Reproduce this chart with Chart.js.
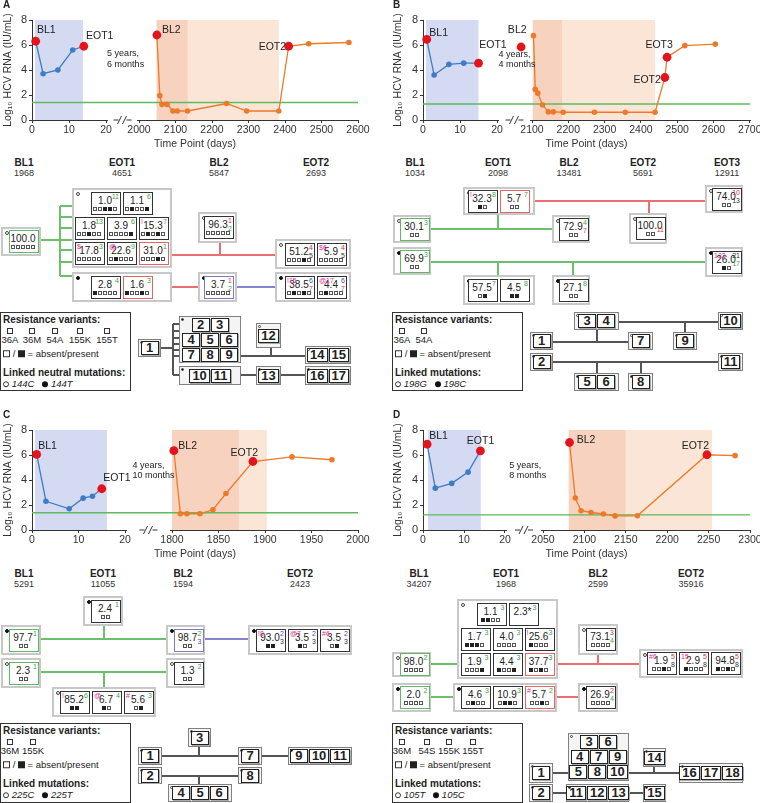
<!DOCTYPE html>
<html>
<head>
<meta charset="utf-8">
<script src="https://cdn.jsdelivr.net/npm/chart.js@4.4.0/dist/chart.umd.min.js"></script>
<style>
body{margin:0;background:#fff;font-family:"Liberation Sans",Arial,sans-serif;color:#222;overflow:hidden}
#page{position:relative;width:760px;height:803px;overflow:hidden}
canvas{position:absolute}
.t{position:absolute;white-space:nowrap;transform:translate(-50%,-50%);line-height:1}
.tl{position:absolute;white-space:nowrap;transform:translate(0,-50%);line-height:1}
.ln{position:absolute}
.grp{position:absolute;box-sizing:border-box;border:2px solid #c8c8c8;background:#fff;display:flex;flex-direction:column;justify-content:center;align-items:center;gap:2px}
.row{display:flex;gap:2px}
.cell{position:relative;box-sizing:border-box;width:30px;height:23px;border:1.5px solid #333;background:#fff}
.val{position:absolute;left:0;right:2px;top:2px;text-align:center;font-size:10px;line-height:11px}
.sqs{position:absolute;left:0;right:2px;bottom:3px;height:4px;display:flex;justify-content:center;gap:1px}
.sq{box-sizing:border-box;width:4px;height:4px;border:1px solid #555;background:#fff}
.sq.on{background:#222;border-color:#222}
.sup{position:absolute;right:1px;top:0px;font-size:7px;line-height:7px}
.sub{position:absolute;right:1px;top:8px;font-size:7px;line-height:7px}
.pre{position:absolute;left:1px;top:0px;font-size:7px;line-height:7px;color:#e0309a}
.mk{position:absolute;left:2px;top:2px;width:4px;height:4px;border-radius:50%;box-sizing:border-box;border:0.8px solid #444}
.mk.f{background:#111;border-color:#111}
.node{position:absolute;box-sizing:border-box;border:1px solid #808080;background:#f4f4f4;display:flex;flex-direction:column;justify-content:center;align-items:center;gap:1px}
.ncell{box-sizing:border-box;min-width:18px;height:14px;padding:0 2px;border:1.6px solid #222;background:#fff;font-weight:bold;font-size:13px;line-height:11px;text-align:center;box-shadow:1px 1px 0 #aaa}
.nmk{position:absolute;left:1px;top:1px;width:3px;height:3px;border-radius:50%;box-sizing:border-box;border:0.6px solid #444}
.nmk.f{background:#111}
.leg{position:absolute;box-sizing:border-box;border:1.3px solid #333;background:#fff}
</style>
</head>
<body>
<div id="page">
<canvas id="cA" width="380" height="150" style="left:0;top:0"></canvas>
<canvas id="cB" width="380" height="150" style="left:380px;top:0"></canvas>
<canvas id="cC" width="380" height="150" style="left:0;top:410px"></canvas>
<canvas id="cD" width="380" height="150" style="left:380px;top:410px"></canvas>
</div>
<script>
// ---- viral load data (days, log10 IU/mL) ----
const aDays1 = [1, 3, 7, 11, 14];
const aLoad1 = [6.3, 3.7, 4.0, 5.6, 5.9];
const aDays2 = [2049, 2057, 2063, 2077, 2093, 2105, 2133, 2240, 2295, 2383, 2410, 2465, 2575];
const aLoad2 = [6.8, 1.95, 1.25, 1.25, 0.72, 0.72, 0.72, 1.32, 0.72, 0.72, 5.9, 6.1, 6.2];
const aKeyDays = [1, 14, 2049, 2410];
const aKeyLoad = [6.3, 5.9, 6.8, 5.9];

const bDays1 = [1, 3, 7, 11, 15];
const bLoad1 = [6.45, 3.6, 4.45, 4.55, 4.55];
const bDays2 = [2104, 2109, 2116, 2129, 2145, 2159, 2186, 2272, 2357, 2439, 2466, 2472, 2521, 2605];
const bLoad2 = [6.75, 2.45, 2.15, 1.2, 0.65, 0.65, 0.62, 0.62, 0.62, 0.62, 3.4, 5.02, 5.95, 6.07];
const bKeyDays = [1, 15, 2070, 2466, 2472];
const bKeyLoad = [6.45, 4.55, 5.84, 3.4, 5.02];

const cDays1 = [1, 3, 8, 11, 13, 15];
const cLoad1 = [6.05, 2.3, 1.7, 2.55, 2.7, 3.3];
const cDays2 = [1802, 1809, 1816, 1830, 1844, 1858, 1887, 1929, 1972];
const cLoad2 = [6.35, 1.3, 1.3, 1.3, 1.62, 2.92, 5.48, 5.85, 5.62];
const cKeyDays = [1, 15, 1802, 1887];
const cKeyLoad = [6.05, 3.3, 6.35, 5.48];

const dDays1 = [1, 3, 7, 11, 14];
const dLoad1 = [6.87, 3.35, 3.73, 4.63, 6.33];
const dDays2 = [2082, 2089, 2096, 2108, 2123, 2137, 2164, 2248, 2282];
const dLoad2 = [7.0, 2.56, 1.54, 1.4, 1.28, 1.13, 1.14, 6.02, 5.95];
const dKeyDays = [1, 14, 2082, 2248];
const dKeyLoad = [6.87, 6.33, 7.0, 6.02];

// tick labels of the broken time axis
const aTicks = [0, 10, 20, 2000, 2100, 2200, 2300, 2400, 2500, 2600];
const bTicks = [0, 10, 20, 2100, 2200, 2300, 2400, 2500, 2600, 2700];
const cTicks = [0, 10, 20, 1800, 1850, 1900, 1950, 2000];
const dTicks = [0, 10, 20, 2050, 2100, 2150, 2200, 2250, 2300];

const BLUE = '#3f7cc6', ORANGE = '#ec7a2a', RED = '#e3141b', GREEN = '#5dba5d';
const FONT = '"Liberation Sans", Arial, sans-serif';

function panelPlugin(o) {
  return {
    id: 'panel',
    beforeDatasetsDraw(chart) {
      const ctx = chart.ctx, a = chart.chartArea;
      const xs = chart.scales.x, ys = chart.scales.y;
      const band = (r, col) => {
        const x1 = xs.getPixelForValue(o.map(r[0])), x2 = xs.getPixelForValue(o.map(r[1]));
        ctx.fillStyle = col; ctx.fillRect(x1, a.top, x2 - x1, a.bottom - a.top);
      };
      ctx.save();
      band(o.blue, 'rgba(196,206,236,0.75)');
      band(o.dark, 'rgba(244,196,170,0.75)');
      band(o.light, 'rgba(250,218,196,0.7)');
      const gy = ys.getPixelForValue(o.lloq);
      ctx.strokeStyle = GREEN; ctx.lineWidth = 1.4;
      ctx.beginPath(); ctx.moveTo(a.left, gy); ctx.lineTo(a.right, gy); ctx.stroke();
      ctx.restore();
    },
    afterDraw(chart) {
      const ctx = chart.ctx, a = chart.chartArea;
      const xs = chart.scales.x, ys = chart.scales.y;
      ctx.save();
      // axis break
      const x20 = xs.getPixelForValue(o.map(20)), xr = xs.getPixelForValue(o.map(o.r0));
      const mid = (x20 + xr) / 2, y = a.bottom;
      ctx.fillStyle = '#fff';
      ctx.fillRect(x20 + 2, y - 3, xr - x20 - 4, 6);
      ctx.strokeStyle = '#333'; ctx.lineWidth = 1;
      ctx.beginPath(); ctx.moveTo(mid - 9, y); ctx.lineTo(mid + 9, y); ctx.stroke();
      ctx.fillRect(mid - 4, y - 4, 8, 8);
      ctx.beginPath();
      ctx.moveTo(mid - 5, y + 4); ctx.lineTo(mid - 1, y - 4);
      ctx.moveTo(mid + 0, y + 4); ctx.lineTo(mid + 4, y - 4);
      ctx.stroke();
      // labels
      ctx.fillStyle = '#222'; ctx.textBaseline = 'middle';
      o.notes.forEach(n => {
        ctx.font = (n[4] || 10.5) + 'px ' + FONT;
        ctx.textAlign = n[3] || 'left';
        ctx.fillText(n[2], xs.getPixelForValue(o.map(n[0])), ys.getPixelForValue(n[1]));
      });
      ctx.restore();
    }
  };
}

function brokenMap(a, r0, off, b) {
  return t => t < 1000 ? a * t : off + b * (t - r0);
}

function makePanel(id, cfg) {
  const map = cfg.map;
  const pts = (d, l) => d.map((t, i) => ({ x: map(t), y: l[i] }));
  const tickVals = cfg.ticks.map(map);
  new Chart(document.getElementById(id).getContext('2d'), {
    type: 'line',
    data: {
      datasets: [
        { data: pts(cfg.d1, cfg.l1), borderColor: BLUE, backgroundColor: BLUE, pointRadius: 2.8, pointBorderWidth: 0, borderWidth: 1.3, clip: false, order: 2 },
        { data: pts(cfg.d2, cfg.l2), borderColor: ORANGE, backgroundColor: ORANGE, pointRadius: 2.8, pointBorderWidth: 0, borderWidth: 1.3, clip: false, order: 1 },
        { data: pts(cfg.kd, cfg.kl), showLine: false, backgroundColor: RED, borderColor: RED, pointRadius: 4.4, pointBorderWidth: 0, clip: false, order: 0 }
      ]
    },
    options: {
      responsive: false, animation: false,
      layout: { padding: { left: cfg.padL, right: cfg.padR, top: 20, bottom: 0 } },
      plugins: { legend: { display: false }, tooltip: { enabled: false } },
      scales: {
        x: {
          type: 'linear', min: 0, max: cfg.vmax,
          afterBuildTicks: s => { s.ticks = tickVals.map(v => ({ value: v })); },
          afterFit: s => { s.height = 30; s.paddingLeft = 0; s.paddingRight = 0; },
          ticks: { callback: (v, i) => String(cfg.ticks[i]), autoSkip: false, maxRotation: 0, padding: 1, color: '#333', font: { family: FONT, size: 10.5 } },
          grid: { display: true, drawOnChartArea: false, tickLength: 3, color: '#333' },
          border: { color: '#333' },
          title: { display: true, text: 'Time Point (days)', padding: 0, color: '#333', font: { family: FONT, size: 10.5 } }
        },
        y: {
          min: 0, max: 8,
          afterFit: s => { s.width = cfg.yW; s.paddingTop = 0; s.paddingBottom = 0; },
          ticks: { stepSize: 2, padding: 2, color: '#333', font: { family: FONT, size: 11 } },
          grid: { display: true, drawOnChartArea: false, tickLength: 3, color: '#333' },
          border: { color: '#333' },
          title: { display: true, text: 'Log\u2081\u2080 HCV RNA (IU/mL)', padding: { top: 2, bottom: 0 }, color: '#333', font: { family: FONT, size: 10.5 } }
        }
      }
    },
    plugins: [panelPlugin(cfg)]
  });
}

makePanel('cA', {
  d1: aDays1, l1: aLoad1, d2: aDays2, l2: aLoad2, kd: aKeyDays, kl: aKeyLoad, ticks: aTicks,
  map: brokenMap(3.7, 2000, 107, 0.365), r0: 2000, vmax: 326, padL: 0, padR: 22, yW: 32, lloq: 1.4,
  blue: [0.8, 13.8], dark: [2048, 2134], light: [2134, 2383],
  notes: [[1.35, 7.2, 'BL1'], [14.6, 6.7, 'EOT1'], [2063, 7.2, 'BL2'], [2403, 5.85, 'EOT2', 'right'],
          [20.3, 5.3, '5 years,', 'left', 9], [20.3, 4.45, '6 months', 'left', 9]]
});
makePanel('cB', {
  d1: bDays1, l1: bLoad1, d2: bDays2, l2: bLoad2, kd: bKeyDays, kl: bKeyLoad, ticks: bTicks,
  map: brokenMap(3.7, 2100, 109, 0.363), r0: 2100, vmax: 327, padL: 10, padR: 10, yW: 33, lloq: 1.28,
  blue: [0.8, 15], dark: [2102, 2183], light: [2183, 2439],
  notes: [[1.7, 6.96, 'BL1'], [15.2, 6.0, 'EOT1'], [20.4, 5.2, '4 years,', 'left', 9], [20.4, 4.45, '4 months', 'left', 9],
          [2085, 7.2, 'BL2', 'right'], [2455, 3.2, 'EOT2', 'right'], [2488, 6.0, 'EOT3', 'right']]
});
makePanel('cC', {
  d1: cDays1, l1: cLoad1, d2: cDays2, l2: cLoad2, kd: cKeyDays, kl: cKeyLoad, ticks: cTicks,
  map: brokenMap(4.65, 1800, 140, 0.93), r0: 1800, vmax: 326, padL: 0, padR: 22, yW: 32, lloq: 1.38,
  blue: [0.65, 16.1], dark: [1800, 1872], light: [1872, 1902],
  notes: [[1.35, 6.73, 'BL1'], [15.3, 4.15, 'EOT1'], [21.6, 5.17, '4 years,', 'left', 9], [21.6, 4.39, '10 months', 'left', 9],
          [1806.8, 6.73, 'BL2'], [1863, 6.14, 'EOT2']]
});
makePanel('cD', {
  d1: dDays1, l1: dLoad1, d2: dDays2, l2: dLoad2, kd: dKeyDays, kl: dKeyLoad, ticks: dTicks,
  map: brokenMap(4.1, 2050, 120, 0.828), r0: 2050, vmax: 327, padL: 10, padR: 10, yW: 33, lloq: 1.21,
  blue: [1.2, 14.1], dark: [2081, 2150], light: [2150, 2254],
  notes: [[1.5, 7.49, 'BL1'], [10.7, 7.09, 'EOT1'], [2090.7, 7.22, 'BL2'], [2217.5, 6.68, 'EOT2'],
          [21.05, 5.17, '5 years,', 'left', 9], [21.05, 4.36, '8 months', 'left', 9]]
});

// ---- variant diagrams (HTML overlay) ----
const page = document.getElementById('page');
const COL = { g: '#3fa33f', r: '#e0353c', b: '#4b4fb0', k: '#333', m: '#e0309a' };
const BCOL = { g: '#62b862', r: '#e26464', b: '#7b7bc4', k: '#333' };

function div(cls, parent, css, html) {
  const d = document.createElement('div');
  d.className = cls;
  if (css) d.style.cssText = css;
  if (html != null) d.innerHTML = html;
  (parent || page).appendChild(d);
  return d;
}
function txt(x, y, s, css, left) { return div(left ? 'tl' : 't', page, `left:${x}px;top:${y}px;` + (css || ''), s); }
function hl(x1, x2, y, c) { div('ln', page, `left:${x1}px;top:${y - 0.7}px;width:${x2 - x1}px;height:1.4px;background:${c}`); }
function vl(x, y1, y2, c) { div('ln', page, `left:${x - 0.7}px;top:${y1}px;width:1.4px;height:${y2 - y1}px;background:${c}`); }
const LG = '#6cc06c', LR = '#e87070', LB = '#8585cc', LK = '#555';

function sqHtml(s) { return s.split('').map(ch => `<span class="sq${ch === '1' ? ' on' : ''}"></span>`).join(''); }
function c(v, sq, o) { return Object.assign({ v: v, sq: sq }, o || {}); }

function group(x1, y1, x2, y2, mark, rows, pl) {
  const g = div('grp', page, `left:${x1}px;top:${y1}px;width:${x2 - x1}px;height:${y2 - y1}px;padding-left:${pl || 0}px`);
  div('mk' + (mark ? ' f' : ''), g);
  rows.forEach(r => {
    const row = div('row', g);
    r.forEach(s => {
      const e = div('cell', row, `border-color:${BCOL[s.c || 'k']}`);
      div('val', e, '', s.v);
      if (s.sq) div('sqs', e, '', sqHtml(s.sq));
      if (s.p) div('sup', e, `color:${COL[s.pc || 'g']}`, s.p);
      if (s.b) div('sub', e, `color:${COL[s.bc || 'k']}`, s.b);
      if (s.m) div('pre', e, '', s.m);
    });
  });
}
function node(x1, y1, x2, y2, mark, rows) {
  const n = div('node', page, `left:${x1}px;top:${y1}px;width:${x2 - x1}px;height:${y2 - y1}px`);
  div('nmk' + (mark ? ' f' : ''), n);
  rows.forEach(r => {
    const row = div('row', n, 'gap:1px');
    r.forEach(s => div('ncell', row, '', s));
  });
}
function header(y, cols) {
  cols.forEach(h => {
    txt(h[2], y, h[0], 'font-weight:bold;font-size:10px');
    txt(h[2], y + 10, h[1], 'font-size:9px;color:#333');
  });
}
function legend(x, y, w, h, labs, xs, mutTitle, m1, m2) {
  div('leg', page, `left:${x}px;top:${y}px;width:${w}px;height:${h}px`);
  txt(x + 3, y + 8, 'Resistance variants:', 'font-weight:bold;font-size:10px', true);
  labs.forEach((l, i) => {
    div('ln', page, `left:${x + xs[i] - 3}px;top:${y + 16}px;width:6px;height:6px;box-sizing:border-box;border:1px solid #333`);
    txt(x + xs[i], y + 28, l, 'font-size:9.5px');
  });
  txt(x + 3, y + 42, '<span style="display:inline-block;width:7px;height:7px;border:1px solid #333;box-sizing:border-box"></span> / <span style="display:inline-block;width:7px;height:7px;background:#222"></span> = absent/present', 'font-size:9.5px', true);
  txt(x + 3, y + 61, mutTitle, 'font-weight:bold;font-size:10px', true);
  txt(x + 3, y + 72, `<span style="display:inline-block;width:6px;height:6px;border:0.8px solid #333;border-radius:50%;box-sizing:border-box"></span> ${m1}&nbsp;&nbsp;&nbsp;<span style="display:inline-block;width:6px;height:6px;background:#111;border-radius:50%"></span> ${m2}`, 'font-size:9.5px;font-style:italic', true);
}

// panel letters
txt(3, 5, 'A', 'font-weight:bold;font-size:10px', true);
txt(393, 5, 'B', 'font-weight:bold;font-size:10px', true);
txt(3, 415, 'C', 'font-weight:bold;font-size:10px', true);
txt(393, 415, 'D', 'font-weight:bold;font-size:10px', true);

// ---- A ----
header(163, [['BL1', '1968', 24], ['EOT1', '4651', 122], ['BL2', '5847', 219], ['EOT2', '2693', 316]]);
hl(41, 60, 240, LG); vl(60, 206, 276, LG);
[206, 217, 228, 240, 250, 262, 276].forEach(y => hl(60, 74, y, LG));
hl(165, 275, 255, LR); vl(220, 243, 255, LR);
hl(150, 198, 287, LR); hl(237, 275, 287, LB);
group(1, 227, 41, 256, 0, [[c('100.0', '00000', { c: 'g' })]], 6);
group(72, 188, 172, 268, 0, [
  [c('1.0', '00110', { p: '11' }), c('1.1', '01001', { p: '6' })],
  [c('1.8', '00100', { p: '13' }), c('3.9', '00001', { p: '6' }), c('15.3', '01010', { p: '7', m: '!' })],
  [c('17.8', '00000', { p: '3', m: '$' }), c('22.6', '01000', { p: '9', m: '@' }), c('31.0', '00010', { p: '1', c: 'r' })]]);
group(72, 272, 172, 302, 1, [[c('2.8', '10000', { p: '4' }), c('1.6', '10010', { p: '3', c: 'r' })]]);
group(198, 212, 237, 243, 0, [[c('96.3', '00000', { p: '1', pc: 'r', b: '2', bc: 'g' })]], 3);
group(198, 272, 237, 302, 1, [[c('3.7', '00000', { p: '1', pc: 'r', b: '2', bc: 'g', c: 'b' })]], 3);
group(275, 239, 351, 269, 0, [[c('51.2', '00010', { p: '4', pc: 'r', b: '5' }), c('5.9', '00000', { p: '4', pc: 'r', b: '5', m: '$6' })]], 6);
group(275, 272, 351, 302, 1, [[c('38.5', '01010', { p: '6', pc: 'b', b: '7', bc: 'r', m: '!15' }), c('4.4', '01000', { p: '6', pc: 'b', b: '7', bc: 'r', m: '@17' })]], 6);
legend(0, 312, 131, 79, ['36A', '36M', '54A', '155K', '155T'], [10, 32, 55, 80, 107], 'Linked neutral mutations:', '144C', '144T');
hl(161, 173, 348, LK); vl(173, 324, 375, LK);
[324, 331, 338, 344, 350, 356, 375].forEach(y => hl(173, 180, y, LK));
hl(241, 305, 356, LK); vl(271, 348, 356, LK); hl(241, 256, 375, LK); hl(281, 305, 375, LK);
node(138, 339, 161, 357, 0, [['1']]);
node(179, 316, 241, 363, 1, [['2', '3'], ['4', '5', '6'], ['7', '8', '9']]);
node(179, 366, 241, 385, 1, [['10', '11']]);
node(256, 323, 281, 348, 0, [['12']]);
node(256, 366, 281, 385, 1, [['13']]);
node(305, 346, 351, 364, 0, [['14', '15']]);
node(305, 366, 351, 385, 1, [['16', '17']]);

// ---- B ----
header(163, [['BL1', '1034', 415], ['EOT1', '2098', 498], ['BL2', '13481', 569], ['EOT2', '5691', 643], ['EOT3', '12911', 727]]);
hl(533, 705, 201, LR); vl(649, 201, 213, LR);
hl(431, 554, 229, LG); vl(498, 215, 229, LG);
hl(431, 705, 262, LG); vl(498, 262, 275, LG); vl(573, 262, 275, LG);
group(463, 187, 535, 215, 0, [[c('32.3', '10', { p: '8', m: '!' }), c('5.7', '00', { p: '7', c: 'r' })]]);
group(393, 215, 431, 243, 0, [[c('30.1', '00', { p: '3', c: 'g' })]], 6);
group(552, 215, 590, 243, 0, [[c('72.9', '00', { p: '4', b: '7', bc: 'r' })]], 6);
group(629, 213, 667, 244, 0, [[c('100.0', '00', { b: '11', bc: 'r' })]], 6);
group(705, 185, 743, 213, 0, [[c('74.0', '00', { p: '10', pc: 'r', b: '13' })]], 6);
group(393, 247, 431, 275, 1, [[c('69.9', '00', { p: '3', c: 'g' })]], 6);
group(705, 247, 743, 277, 1, [[c('26.0', '10', { p: '21', pc: 'k', b: '17', bc: 'g', m: '123' })]], 6);
group(463, 275, 535, 305, 1, [[c('57.5', '01', { p: '7' }), c('4.5', '11', { p: '8' })]]);
group(552, 275, 590, 305, 1, [[c('27.1', '00', { p: '8' })]], 6);
legend(392, 312, 131, 79, ['36A', '54A'], [10, 32], 'Linked mutations:', '198G', '198C');
hl(619, 718, 322, LK); vl(685, 322, 332, LK);
hl(553, 628, 342, LK); vl(597, 330, 342, LK);
hl(553, 718, 362, LK); vl(597, 362, 373, LK); vl(641, 362, 373, LK);
node(574, 312, 619, 330, 0, [['3', '4']]);
node(718, 312, 743, 330, 0, [['10']]);
node(530, 332, 553, 350, 0, [['1']]);
node(628, 332, 653, 350, 0, [['7']]);
node(673, 332, 697, 350, 0, [['9']]);
node(530, 353, 553, 371, 1, [['2']]);
node(718, 353, 743, 371, 1, [['11']]);
node(574, 373, 619, 391, 1, [['5', '6']]);
node(628, 373, 653, 391, 1, [['8']]);

// ---- C ----
header(574, [['BL1', '5291', 24], ['EOT1', '11055', 103], ['BL2', '1594', 183], ['EOT2', '2423', 300]]);
hl(41, 166, 639, LG); vl(104, 626, 639, LG); hl(205, 248, 639, LB);
hl(41, 166, 672, LG); vl(104, 672, 687, LG);
group(83, 596, 123, 626, 1, [[c('2.4', '00', { p: '1' })]], 6);
group(1, 625, 41, 655, 1, [[c('97.7', '00', { p: '1', c: 'g' })]], 6);
group(166, 625, 205, 655, 1, [[c('98.7', '00', { p: '2', b: '3', bc: 'b', c: 'b' })]], 6);
group(248, 625, 352, 655, 1, [[c('93.0', '11', { p: '2', pc: 'b', b: '3', m: '!8' }), c('3.5', '10', { p: '2', pc: 'b', b: '3', m: '@7' }), c('3.5', '01', { p: '2', pc: 'b', b: '3', m: '#6' })]], 6);
group(1, 658, 41, 688, 0, [[c('2.3', '00', { p: '1', c: 'g' })]], 6);
group(166, 658, 205, 688, 0, [[c('1.3', '00', { p: '2' })]], 6);
group(52, 687, 156, 717, 0, [[c('85.2', '11', { p: '6', m: '!' }), c('6.7', '10', { p: '4', m: '@' }), c('5.6', '01', { p: '3', m: '#' })]], 6);
legend(0, 723, 131, 80, ['36M', '155K'], [10, 33], 'Linked mutations:', '225C', '225T');
hl(162, 288, 756, LK); vl(199, 747, 756, LK);
hl(162, 238, 776, LK); vl(199, 776, 784, LK);
node(188, 728, 211, 747, 1, [['3']]);
node(138, 747, 162, 765, 1, [['1']]);
node(238, 747, 262, 765, 1, [['7']]);
node(288, 747, 352, 765, 1, [['9', '10', '11']]);
node(138, 767, 162, 784, 0, [['2']]);
node(238, 767, 262, 784, 0, [['8']]);
node(168, 784, 232, 802, 0, [['4', '5', '6']]);

// ---- D ----
header(574, [['BL1', '34207', 419], ['EOT1', '1968', 506], ['BL2', '2599', 598], ['EOT2', '35916', 691]]);
hl(431, 457, 664, LG); hl(550, 639, 664, LR); vl(598, 655, 664, LR);
hl(431, 453, 697, LG); hl(550, 578, 697, LR);
group(457, 599, 558, 679, 0, [
  [c('1.1', '1100', { p: '3' }), c('2.3*', '', { p: '3' })],
  [c('1.7', '1110', { p: '3' }), c('4.0', '0000', { p: '3' }), c('25.6', '1000', { p: '3', m: '!' })],
  [c('1.9', '0001', { p: '3' }), c('4.4', '1001', { p: '3' }), c('37.7', '1010', { p: '3', c: 'r' })]]);
group(578, 624, 618, 655, 0, [[c('73.1', '0000', { p: '3', pc: 'r', b: '4', bc: 'g' })]], 6);
group(392, 652, 431, 677, 0, [[c('98.0', '0000', { p: '2', c: 'g' })]], 6);
group(639, 649, 743, 678, 0, [[c('1.9', '0010', { p: '5', pc: 'r', b: '8', m: '#6' }), c('2.9', '1000', { p: '5', pc: 'r', b: '8', m: '15' }), c('94.8', '1010', { p: '5', pc: 'r', b: '8' })]], 6);
group(392, 683, 431, 712, 1, [[c('2.0', '0000', { p: '2', c: 'g' })]], 6);
group(453, 683, 557, 712, 1, [[c('4.6', '0100', { p: '3' }), c('10.9', '0110', { p: '3' }), c('5.7', '0010', { p: '2', m: '#', c: 'r' })]], 6);
group(578, 683, 618, 712, 1, [[c('26.9', '0000', { p: '2', pc: 'r', b: '4', bc: 'g' })]], 6);
legend(392, 723, 131, 80, ['36M', '54S', '155K', '155T'], [10, 35, 57, 81], 'Linked mutations:', '105T', '105C');
hl(553, 568, 773, LK); hl(629, 679, 773, LK); vl(654, 767, 773, LK);
hl(553, 566, 793, LK); hl(629, 643, 793, LK);
node(568, 733, 629, 781, 0, [['3', '6'], ['4', '7', '9'], ['5', '8', '10']]);
node(643, 748, 666, 767, 0, [['14']]);
node(529, 763, 553, 783, 0, [['1']]);
node(679, 763, 743, 783, 0, [['16', '17', '18']]);
node(529, 784, 553, 802, 1, [['2']]);
node(566, 784, 629, 802, 1, [['11', '12', '13']]);
node(643, 784, 666, 802, 1, [['15']]);
</script>
</body>
</html>
